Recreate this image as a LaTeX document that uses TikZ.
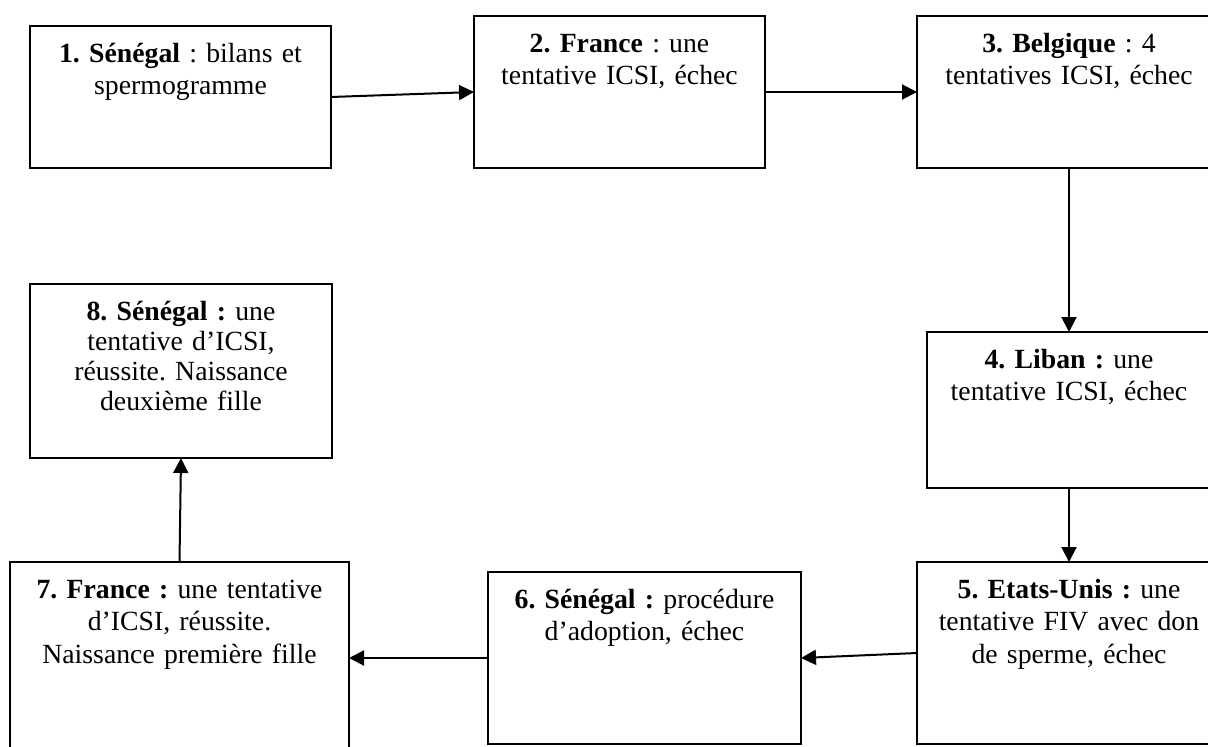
\documentclass[tikz,border=0pt]{standalone}
\usepackage{fontspec}
\setmainfont{Liberation Serif}
\usetikzlibrary{arrows.meta}
\frenchspacing
\begin{document}
\begin{tikzpicture}[x=1pt,y=-1pt,
  box/.style={draw=black,line width=1.7pt,rectangle,inner sep=0pt,outer sep=0pt},
  txt/.style={anchor=base,inner sep=0pt,align=center,font=\frenchspacing\fontsize{27.75}{32.5}\selectfont},
  arr/.style={draw=black,line width=2pt,-{Triangle[length=15pt,width=15pt]}}]
\clip (0,0) rectangle (1208,747);
\fill[white] (0,0) rectangle (1208,747);
% boxes
\node[box,minimum width=301pt,minimum height=142pt] (b1) at (180.5,97) {};
\node[box,minimum width=291pt,minimum height=152pt] (b2) at (619.5,92) {};
\node[box,minimum width=304pt,minimum height=152pt] (b3) at (1069,92) {};
\node[box,minimum width=284pt,minimum height=156pt] (b4) at (1069,410) {};
\node[box,minimum width=304pt,minimum height=182pt] (b5) at (1069,653) {};
\node[box,minimum width=313pt,minimum height=172pt] (b6) at (644.5,658) {};
\node[box,minimum width=339pt,minimum height=192pt] (b7) at (179.5,658) {};
\node[box,minimum width=302pt,minimum height=174pt] (b8) at (181,371) {};
% texts
\node[txt,text width=290pt] (t1) at ([yshift=-36pt]b1.north) {\textbf{1. Sénégal} : bilans et\\spermogramme};
\node[txt,text width=280pt] (t2) at ([yshift=-36pt]b2.north) {\textbf{2. France} : une\\tentative ICSI, échec};
\node[txt,text width=290pt] (t3) at ([yshift=-36pt]b3.north) {\textbf{3. Belgique} : 4\\tentatives ICSI, échec};
\node[txt,text width=274pt] (t4) at ([yshift=-36pt]b4.north) {\textbf{4. Liban :} une\\tentative ICSI, échec};
\node[txt,text width=294pt] (t5) at ([yshift=-36pt]b5.north) {\textbf{5. Etats-Unis :} une\\tentative FIV avec don\\de sperme, échec};
\node[txt,text width=300pt] (t6) at ([yshift=-36pt]b6.north) {\textbf{6. Sénégal :} procédure\\d’adoption, échec};
\node[txt,text width=330pt] (t7) at ([yshift=-36pt]b7.north) {\textbf{7. France :} une tentative\\d’ICSI, réussite.\\Naissance première fille};
\node[txt,text width=292pt,font=\frenchspacing\fontsize{27.75}{30}\selectfont] (t8) at ([yshift=-36pt]b8.north) {\textbf{8. Sénégal :} une\\tentative d’ICSI,\\réussite. Naissance\\deuxième fille};
% connectors
\draw[arr] (b1.east) -- (b2.west);
\draw[arr] (b2.east) -- (b3.west);
\draw[arr] (b3.south) -- (b4.north);
\draw[arr] (b4.south) -- (b5.north);
\draw[arr] (b5.west) -- (b6.east);
\draw[arr] (b6.west) -- (b7.east);
\draw[arr] (b7.north) -- (b8.south);
\end{tikzpicture}
\end{document}
